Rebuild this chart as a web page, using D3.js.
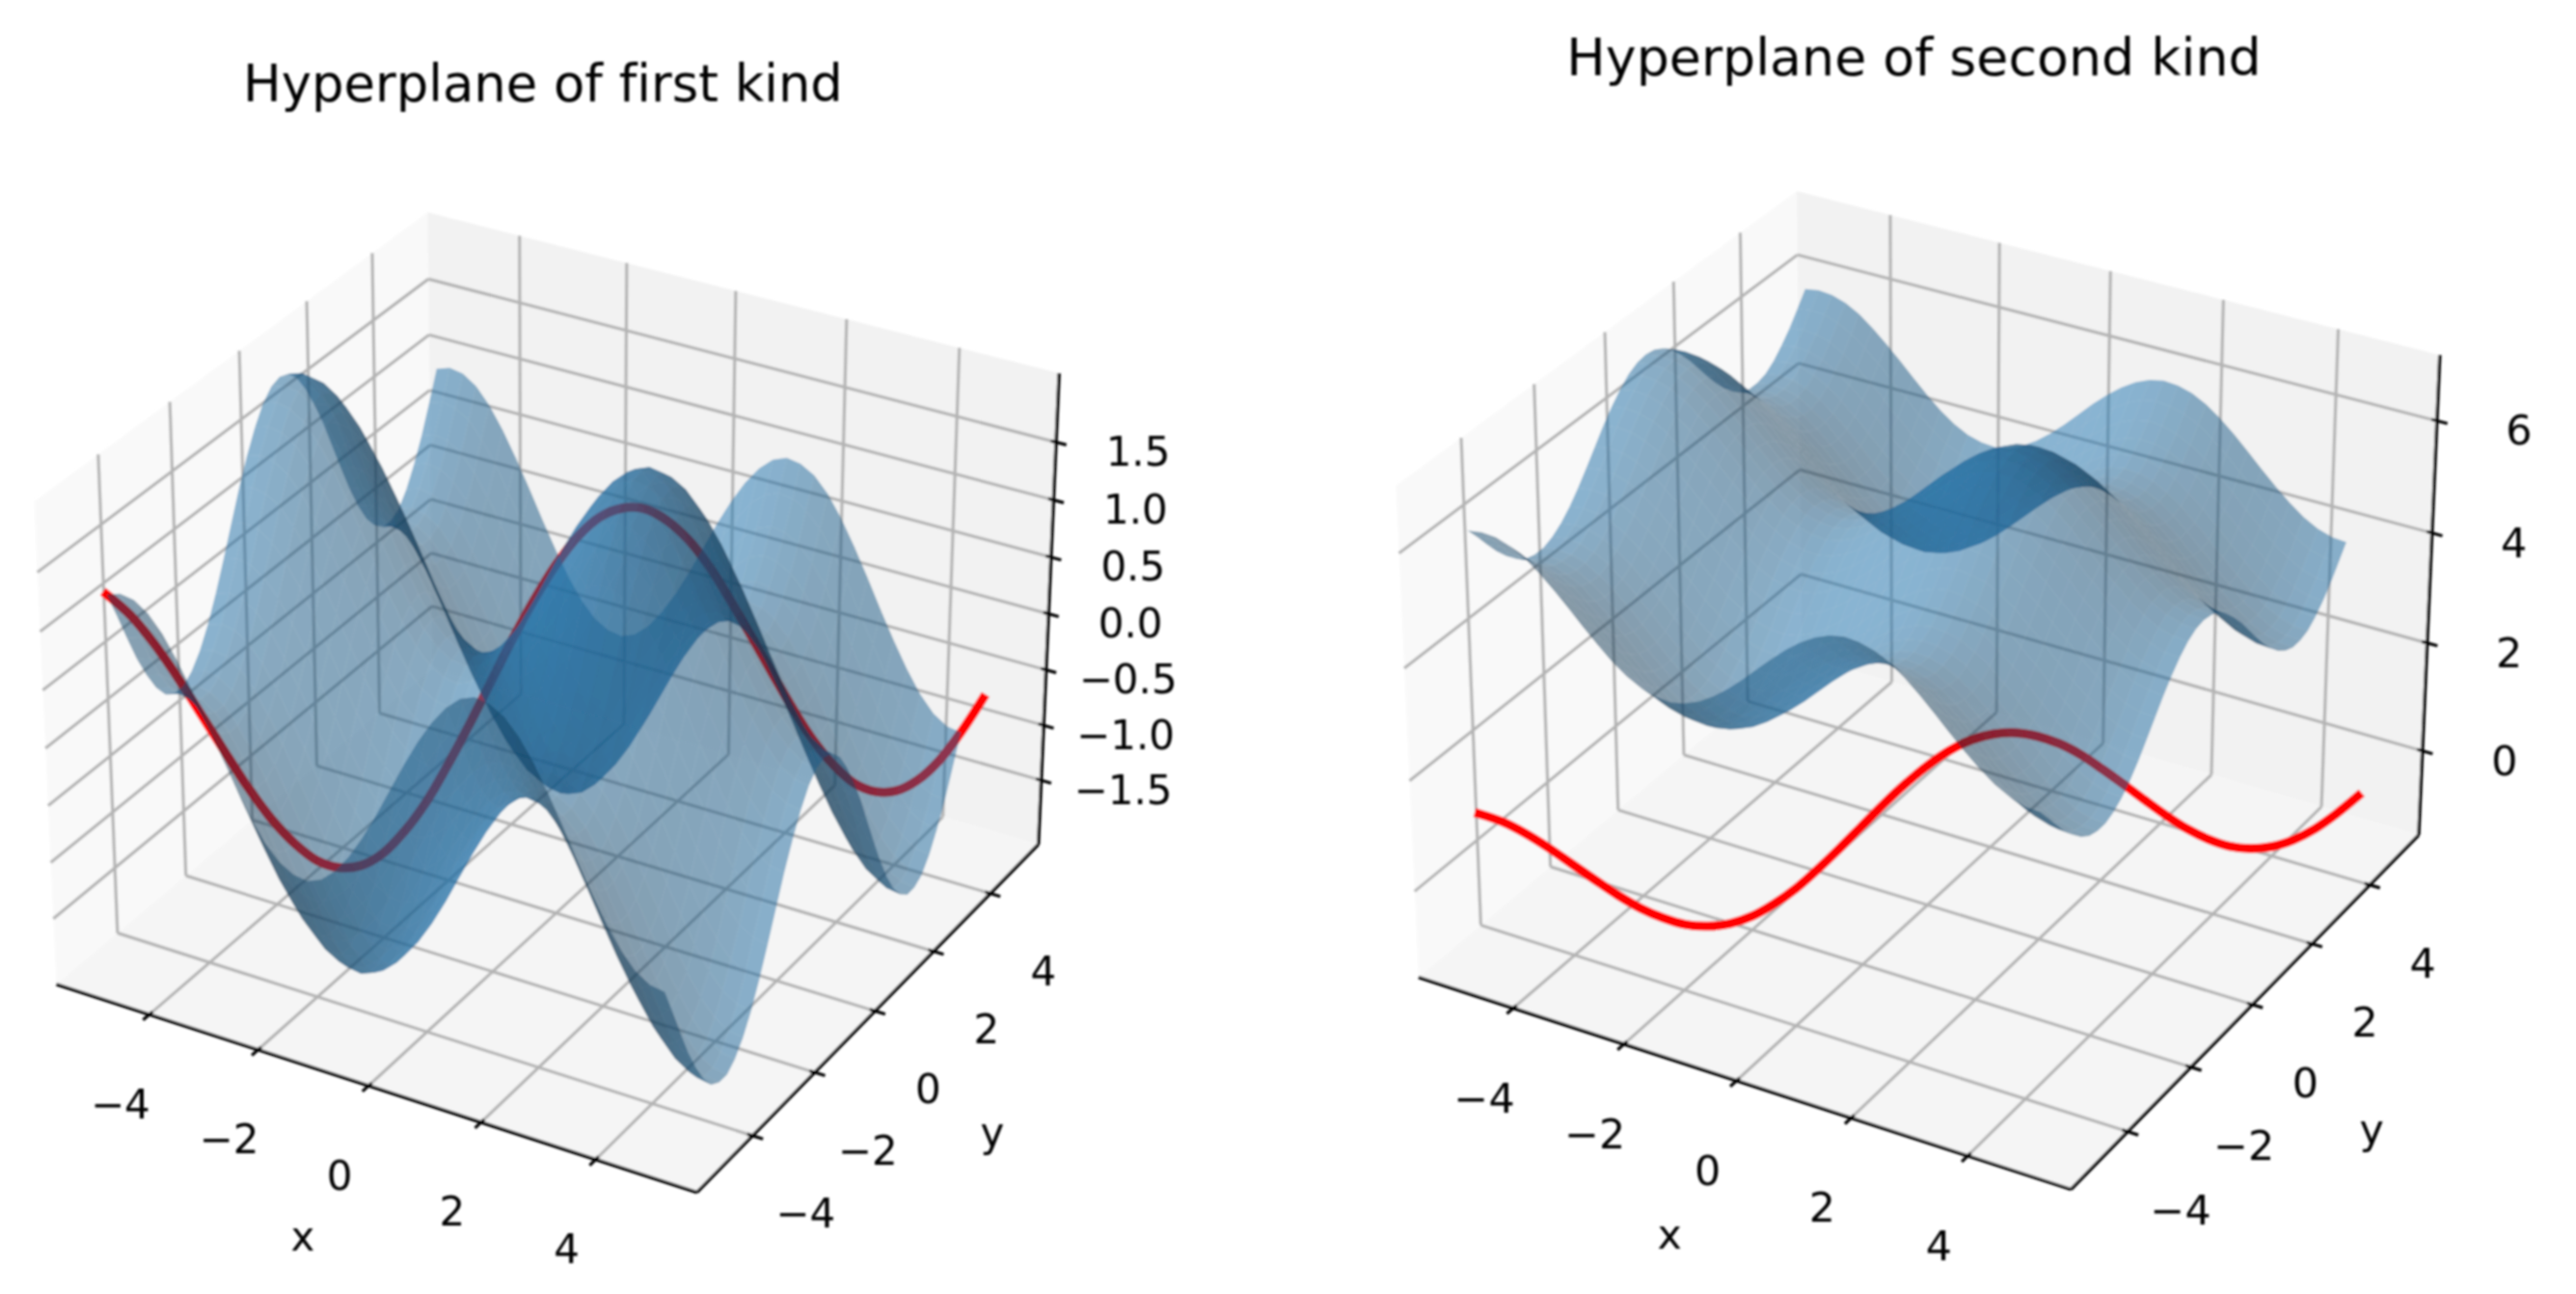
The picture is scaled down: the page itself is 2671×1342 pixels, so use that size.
<!DOCTYPE html>
<html><head><meta charset="utf-8">
<script src="https://cdn.jsdelivr.net/npm/d3@7"></script>
<style>html,body{margin:0;background:#fff}svg{display:block}text{font-family:"DejaVu Sans";fill:#000;font-variant-ligatures:none}</style>
</head><body><svg id="chart" width="2671" height="1342"></svg>
<script>
// Values. The surface is stored as two edge profiles plus a level for each panel.
const gridX = [-5,-4.75,-4.5,-4.25,-4,-3.75,-3.5,-3.25,-3,-2.75,-2.5,-2.25,-2,-1.75,-1.5,-1.25,-1,-0.75,-0.5,-0.25,0,0.25,0.5,0.75,1,1.25,1.5,1.75,2,2.25,2.5,2.75,3,3.25,3.5,3.75,4,4.25,4.5,4.75];
const gridY = gridX;
const profileAlongX = [0.96,1,0.98,0.9,0.76,0.57,0.35,0.11,-0.14,-0.38,-0.6,-0.78,-0.91,-0.98,-1,-0.95,-0.84,-0.68,-0.48,-0.25,0,0.25,0.48,0.68,0.84,0.95,1,0.98,0.91,0.78,0.6,0.38,0.14,-0.11,-0.35,-0.57,-0.76,-0.9,-0.98,-1];
const profileAlongY = [0.28,0.04,-0.21,-0.45,-0.65,-0.82,-0.94,-0.99,-0.99,-0.92,-0.8,-0.63,-0.42,-0.18,0.07,0.32,0.54,0.73,0.88,0.97,1,0.97,0.88,0.73,0.54,0.32,0.07,-0.18,-0.42,-0.63,-0.8,-0.92,-0.99,-0.99,-0.94,-0.82,-0.65,-0.45,-0.21,0.04];
const lineT = [-5,-4.75,-4.5,-4.25,-4,-3.75,-3.5,-3.25,-3,-2.75,-2.5,-2.25,-2,-1.75,-1.5,-1.25,-1,-0.75,-0.5,-0.25,0,0.25,0.5,0.75,1,1.25,1.5,1.75,2,2.25,2.5,2.75,3,3.25,3.5,3.75,4,4.25,4.5,4.75,5];
const lineZ = [1.24,1.04,0.77,0.45,0.1,-0.25,-0.59,-0.89,-1.13,-1.31,-1.4,-1.41,-1.33,-1.16,-0.93,-0.63,-0.3,0.05,0.4,0.72,1,1.22,1.36,1.41,1.38,1.26,1.07,0.81,0.49,0.15,-0.2,-0.54,-0.85,-1.1,-1.29,-1.39,-1.41,-1.34,-1.19,-0.96,-0.68];
const xyTicks = [-4,-2,0,2,4];
const zTicksFirst = [-1.5,-1,-0.5,0,0.5,1,1.5];
const zTicksSecond = [0,2,4,6];
const levelFirst = 0, levelSecond = 5;
const titles = ["Hyperplane of first kind","Hyperplane of second kind"];

const panels = [
 {title:titles[0],level:levelFirst,zTicks:zTicksFirst,zFmt:d3.format(".1f"),zLim:[-2.09,2.09],cx:576.6,cy:705,s:6660,titleX:563,titleY:105,tf:52.8,lf:42},
 {title:titles[1],level:levelSecond,zTicks:zTicksSecond,zFmt:d3.format("d"),zLim:[-1.586,7.156],cx:1998.6,cy:692,s:6783,titleX:1984.5,titleY:78,tf:53.8,lf:42.8}
];
const L = 5.74, A = 0.5714, C = 0.4286;
const rad = Math.PI/180, el = 30*rad, az = -60*rad, dist = 10;
const w = [Math.cos(el)*Math.cos(az),Math.cos(el)*Math.sin(az),Math.sin(el)];
const u = [-w[1],w[0],0].map(v=>v/Math.hypot(w[0],w[1]));
const v = [w[1]*u[2]-w[2]*u[1],w[2]*u[0]-w[0]*u[2],w[0]*u[1]-w[1]*u[0]];
const dot = (a,b)=>a[0]*b[0]+a[1]*b[1]+a[2]*b[2];
const light = [-0.6667,-0.6667,0.3333];

const svg = d3.select("#chart");
const defs = svg.append("defs");
defs.append("filter").attr("id","soft")
  .attr("filterUnits","userSpaceOnUse").attr("x",0).attr("y",0).attr("width",2671).attr("height",1342)
  .append("feGaussianBlur").attr("stdDeviation",1.2);
const root = svg.append("g").attr("filter","url(#soft)");

panels.forEach(p=>{
  const g = root.append("g");
  const bx = d3.scaleLinear([-L,L],[-A,A]);
  const bz = d3.scaleLinear(p.zLim,[-C,C]);
  const sx = d3.scaleLinear([0,1],[p.cx,p.cx+p.s]);
  const sy = d3.scaleLinear([0,1],[p.cy,p.cy-p.s]);
  const depth = (x,y,z)=>{const q=[bx(x),bx(y),bz(z)];return dist-dot(q,w);};
  const proj = (x,y,z)=>{const q=[bx(x),bx(y),bz(z)];const d=dist-dot(q,w);return [sx(dot(q,u)/d),sy(dot(q,v)/d)];};
  const pts = a=>a.map(q=>proj(...q).join(",")).join(" ");
  const [z0,z1] = p.zLim;

  // panes
  g.append("polygon").attr("points",pts([[-L,-L,z0],[-L,L,z0],[-L,L,z1],[-L,-L,z1]])).attr("fill","#f9f9f9");
  g.append("polygon").attr("points",pts([[-L,L,z0],[L,L,z0],[L,L,z1],[-L,L,z1]])).attr("fill","#f2f2f2");
  g.append("polygon").attr("points",pts([[-L,-L,z0],[L,-L,z0],[L,L,z0],[-L,L,z0]])).attr("fill","#f5f5f5");

  // grid
  const seg = (a,b,col,wd)=>{const P=proj(...a),Q=proj(...b);g.append("line").attr("x1",P[0]).attr("y1",P[1]).attr("x2",Q[0]).attr("y2",Q[1]).attr("stroke",col).attr("stroke-width",wd);};
  const gc = "#b4b4b4", gw = 3.2;
  xyTicks.forEach(t=>{
    seg([t,-L,z0],[t,L,z0],gc,gw); seg([t,L,z0],[t,L,z1],gc,gw);
    seg([-L,t,z0],[L,t,z0],gc,gw); seg([-L,t,z0],[-L,t,z1],gc,gw);
  });
  p.zTicks.forEach(t=>{ seg([-L,-L,t],[-L,L,t],gc,gw); seg([-L,L,t],[L,L,t],gc,gw); });

  // axes and ticks
  seg([-L,-L,z0],[L,-L,z0],"#000",3.4);
  seg([L,-L,z0],[L,L,z0],"#000",3.4);
  seg([L,L,z0],[L,L,z1],"#000",3.4);
  const lab = (P,dx,dy,txt,fs)=>g.append("text").attr("x",P[0]+dx).attr("y",P[1]+dy).attr("text-anchor","middle").attr("dominant-baseline","central").attr("font-size",fs).text(txt);
  const fmt = d3.format("d");
  xyTicks.forEach(t=>{
    seg([t,-L-0.18,z0],[t,-L+0.09,z0],"#000",3.2);
    lab(proj(t,-L,z0),-30,93,fmt(t).replace("-","\u2212"),p.lf);
    seg([L+0.18,t,z0],[L-0.09,t,z0],"#000",3.2);
    lab(proj(L,t,z0),55,81,fmt(t).replace("-","\u2212"),p.lf);
  });
  p.zTicks.forEach(t=>{
    seg([L+0.18,L,t],[L-0.09,L,t],"#000",3.2);
    lab(proj(L,L,t),85,10,p.zFmt(t).replace("-","\u2212"),p.lf);
  });
  lab([p.cx,p.cy],-0.03943*p.s,0.0872*p.s-3,"x",p.lf);
  lab([p.cx,p.cy],0.0679*p.s,0.071*p.s-3,"y",p.lf);
  g.append("text").attr("x",p.titleX).attr("y",p.titleY).attr("text-anchor","middle").attr("font-size",p.tf).text(p.title);

  // red curve lies beneath the translucent surface
  g.append("path").datum(lineT.map((t,i)=>proj(t,t,lineZ[i])))
    .attr("d",d3.line().curve(d3.curveCatmullRom)).attr("fill","none").attr("stroke","#ff0000").attr("stroke-width",9.5).attr("stroke-linecap","square");

  // surface facets, painter-sorted like mplot3d
  const Z = (i,j)=>profileAlongX[j]+profileAlongY[i]+p.level;
  const facets = [];
  for(let i=0;i<gridY.length-1;i++)for(let j=0;j<gridX.length-1;j++){
    const q=[[gridX[j],gridY[i],Z(i,j)],[gridX[j+1],gridY[i],Z(i,j+1)],[gridX[j+1],gridY[i+1],Z(i+1,j+1)],[gridX[j],gridY[i+1],Z(i+1,j)]];
    const a=[q[0][0]-q[1][0],q[0][1]-q[1][1],q[0][2]-q[1][2]], b=[q[1][0]-q[2][0],q[1][1]-q[2][1],q[1][2]-q[2][2]];
    const n=[a[1]*b[2]-a[2]*b[1],a[2]*b[0]-a[0]*b[2],a[0]*b[1]-a[1]*b[0]];
    const shade=dot(n,light)/Math.hypot(...n);
    const f=0.3+0.7*(shade+1)/2;
    facets.push({q,f,d:d3.mean(q,c=>depth(...c))});
  }
  facets.sort((a,b)=>b.d-a.d);
  g.append("g").selectAll("polygon").data(facets).join("polygon")
    .attr("points",d=>pts(d.q))
    .attr("fill",d=>d3.rgb(31*d.f,119*d.f,180*d.f).formatRgb())
    .attr("fill-opacity",0.5);
});
</script></body></html>
